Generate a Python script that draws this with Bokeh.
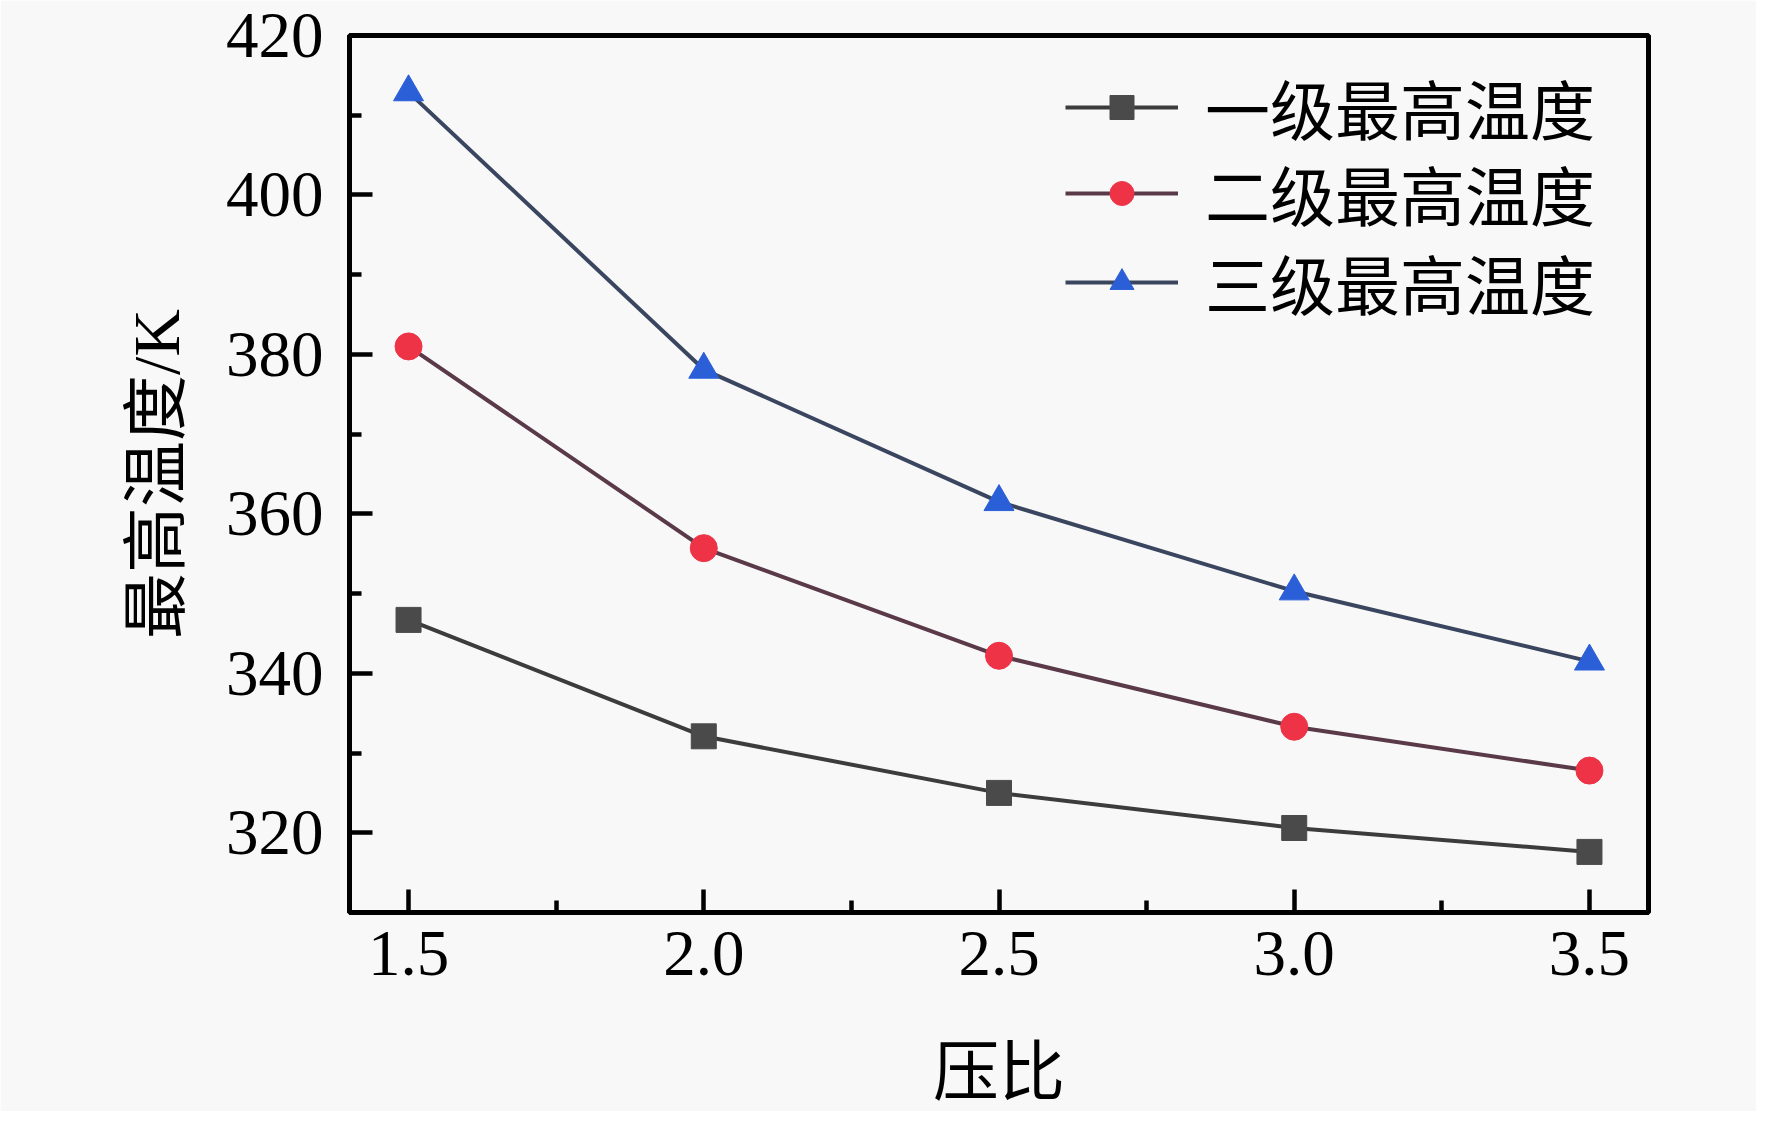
from bokeh.plotting import figure
from bokeh.models import FixedTicker, NumeralTickFormatter, Legend, LegendItem, Range1d
from bokeh.embed import file_html
from bokeh.resources import INLINE

# data
pressure_ratio = [1.5, 2.0, 2.5, 3.0, 3.5]
stage1_max_temp = [346.7, 332.1, 325.0, 320.6, 317.6]
stage2_max_temp = [381.0, 355.7, 342.2, 333.3, 327.8]
stage3_max_temp = [412.9, 378.1, 361.5, 350.3, 341.5]
series_names = ["一级最高温度", "二级最高温度", "三级最高温度"]
x_ticks = [1.5, 2.0, 2.5, 3.0, 3.5]
y_ticks = [320, 340, 360, 380, 400, 420]

FONT = "Liberation Serif, 'Noto Sans CJK SC'"
BG = "#f8f8f8"

p = figure(width=1756, height=1111, output_backend="svg", toolbar_location=None,
           x_range=Range1d(1.4, 3.6), y_range=Range1d(310, 420),
           min_border_left=349, min_border_right=108, min_border_top=35, min_border_bottom=181)
p.background_fill_color = BG
p.border_fill_color = BG
p.grid.visible = False
p.outline_line_color = "black"
p.outline_line_width = 5
p.outline_line_alpha = 1

for ax in (p.xaxis[0], p.yaxis[0]):
    ax.axis_line_width = 5
    ax.major_tick_line_width = 4.5
    ax.minor_tick_line_width = 4.5
    ax.major_tick_in = 23
    ax.major_tick_out = 0
    ax.minor_tick_in = 12
    ax.minor_tick_out = 0
    ax.major_label_text_font = FONT
    ax.major_label_text_font_size = "65px"
    ax.major_label_text_color = "black"
    ax.axis_label_text_font = FONT
    ax.axis_label_text_font_size = "66px"
    ax.axis_label_text_font_style = "normal"
    ax.axis_label_text_color = "black"

p.xaxis.ticker = FixedTicker(ticks=x_ticks, minor_ticks=[1.75, 2.25, 2.75, 3.25])
p.xaxis.formatter = NumeralTickFormatter(format="0.0")
p.xaxis.major_label_standoff = 19
p.xaxis.axis_label = "压比"
p.xaxis.axis_label_standoff = 58

p.yaxis.ticker = FixedTicker(ticks=y_ticks, minor_ticks=[330, 350, 370, 390, 410])
p.yaxis.major_label_standoff = 26
p.yaxis.axis_label = "最高温度/K"
p.yaxis.axis_label_standoff = 30

line_colors = ["#3c3c3c", "#5a3a48", "#3a4660"]
marker_colors = ["#4a4a4a", "#ee3347", "#2a5fd8"]
markers = ["square", "circle", "triangle"]
sizes = [25, 27, 30]
data = [stage1_max_temp, stage2_max_temp, stage3_max_temp]
legend_bottoms = [758, 672, 583]

for name, ys, lc, mc, mk, sz, lb in zip(series_names, data, line_colors, marker_colors,
                                       markers, sizes, legend_bottoms):
    l = p.line(pressure_ratio, ys, line_color=lc, line_width=4)
    s = p.scatter(pressure_ratio, ys, marker=mk, size=sz, fill_color=mc, line_color=mc, line_width=1)
    legend = Legend(items=[LegendItem(label=name, renderers=[l, s])], location=(716, lb))
    legend.border_line_color = None
    legend.background_fill_alpha = 0
    legend.label_text_font = FONT
    legend.label_text_font_size = "65px"
    legend.label_text_color = "black"
    legend.glyph_width = 113
    legend.glyph_height = 60
    legend.label_height = 60
    legend.label_standoff = 27
    legend.spacing = 0
    legend.margin = 0
    legend.padding = 0
    p.add_layout(legend)

open("out.html", "w").write(file_html(p, INLINE))
